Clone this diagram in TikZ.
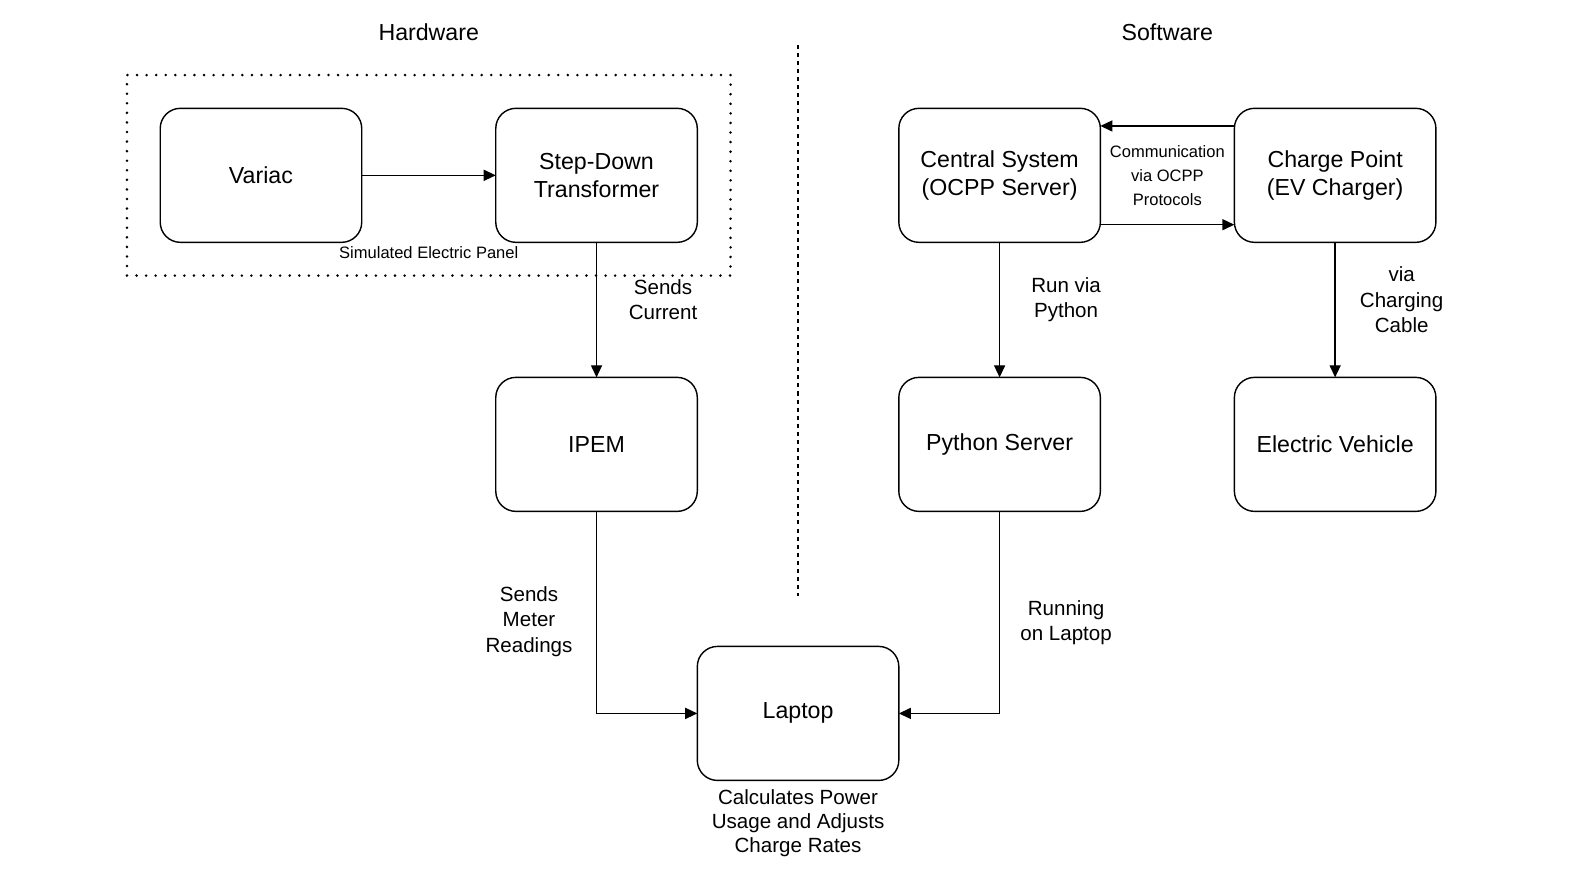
\documentclass[tikz,border=0pt]{standalone}
\usepackage{fontspec}
\setmainfont{Liberation Sans}
\usepackage{tikz}
\usetikzlibrary{calc,positioning,fit,arrows.meta}

\tikzset{
  blk/.style={draw, rounded corners=10pt, line width=0.7pt, outer sep=0pt, minimum width=100pt, minimum height=66.5pt, align=center, font=\fontsize{11.5}{14}\selectfont},
  conn/.style={-{Triangle[length=6pt,width=5.5pt]}, line width=0.7pt},
  lbl/.style={align=center, font=\fontsize{10.2}{12.5}\selectfont},
  tiny/.style={align=center, font=\fontsize{8.2}{12}\selectfont},
}

\begin{document}
\begin{tikzpicture}[node distance=67pt and 66.5pt]
		\useasboundingbox (-129.5pt,87pt) rectangle (654.5pt,-346.5pt);
		% Hardware
		\node[blk] (Variac) at (0,0) {Variac} ;
		\node[blk, right=of Variac] (StepDown) {Step-Down\\Transformer} ;
		\node[blk, below=of StepDown] (IPEM) {IPEM} ;
		\node[blk, below=of IPEM, xshift=100pt] (Laptop) {Laptop} ;
		% Software
		\node[blk, right=100pt of StepDown] (Central) {Central System\\(OCPP Server)} ;
		\node[blk, right=of Central] (Charge) {Charge Point\\(EV Charger)} ;
		\node[blk, below=of Central] (Python) {Python Server} ;
		\node[blk, below=of Charge] (EV) {Electric Vehicle} ;
		% panel frame
		\node[draw, line width=1.4pt, dash pattern=on 0pt off 4.75pt, line cap=round, fit=(Variac)(StepDown), inner sep=16.5pt] (Panel) {} ;
		\node[tiny] (PanelLbl) at ($(Panel.south)+(0,12pt)$) {Simulated Electric Panel} ;
		% headings and divider
		\node[font=\fontsize{11.5}{14}\selectfont] (Hw) at ($(Panel.north)+(0,20.5pt)$) {Hardware} ;
		\node[font=\fontsize{11.5}{14}\selectfont] (Sw) at ($($(Central)!0.5!(Charge)$)+(0,71pt)$) {Software} ;
		\coordinate (DivTop) at ($(Laptop.north |- Variac.north)+(0,31.5pt)$) ;
		\coordinate (DivBot) at ($(Laptop.north)+(0,25pt)$) ;
		\draw[line width=0.7pt, dash pattern=on 2pt off 2pt] (DivTop) -- (DivBot) ;
		% connectors
		\draw[conn] (Variac) -- (StepDown) ;
		\draw[conn] (StepDown) -- (IPEM) node[lbl, midway, xshift=33pt, yshift=5pt] {Sends\\Current} ;
		\draw[conn] (IPEM.south) |- (Laptop.west) node[lbl, pos=0.3, xshift=-33.5pt, yshift=5.5pt] {Sends\\Meter\\Readings} ;
		\draw[conn] (Python.south) |- (Laptop.east) node[lbl, pos=0.3, xshift=33pt, yshift=5pt] {Running\\on Laptop} ;
		\draw[conn] (Central) -- (Python) node[lbl, midway, xshift=33pt, yshift=5pt] {Run via\\Python} ;
		\draw[conn] (Charge) -- (EV) node[lbl, midway, xshift=33pt, yshift=5pt] {via\\Charging\\Cable} ;
		\draw[conn] ($(Charge.west)+(0,24.5pt)$) -- ($(Central.east)+(0,24.5pt)$) ;
		\draw[conn] ($(Central.east)+(0,-24.5pt)$) -- ($(Charge.west)+(0,-24.5pt)$) ;
		\node[tiny] (Comm) at ($(Central.east)!0.5!(Charge.west)$) {Communication\\via OCPP\\Protocols} ;
		\node[lbl, below=1pt of Laptop, font=\fontsize{10.2}{12}\selectfont] (Calc) {Calculates Power\\Usage and Adjusts\\Charge Rates} ;
	\end{tikzpicture}
\end{document}
